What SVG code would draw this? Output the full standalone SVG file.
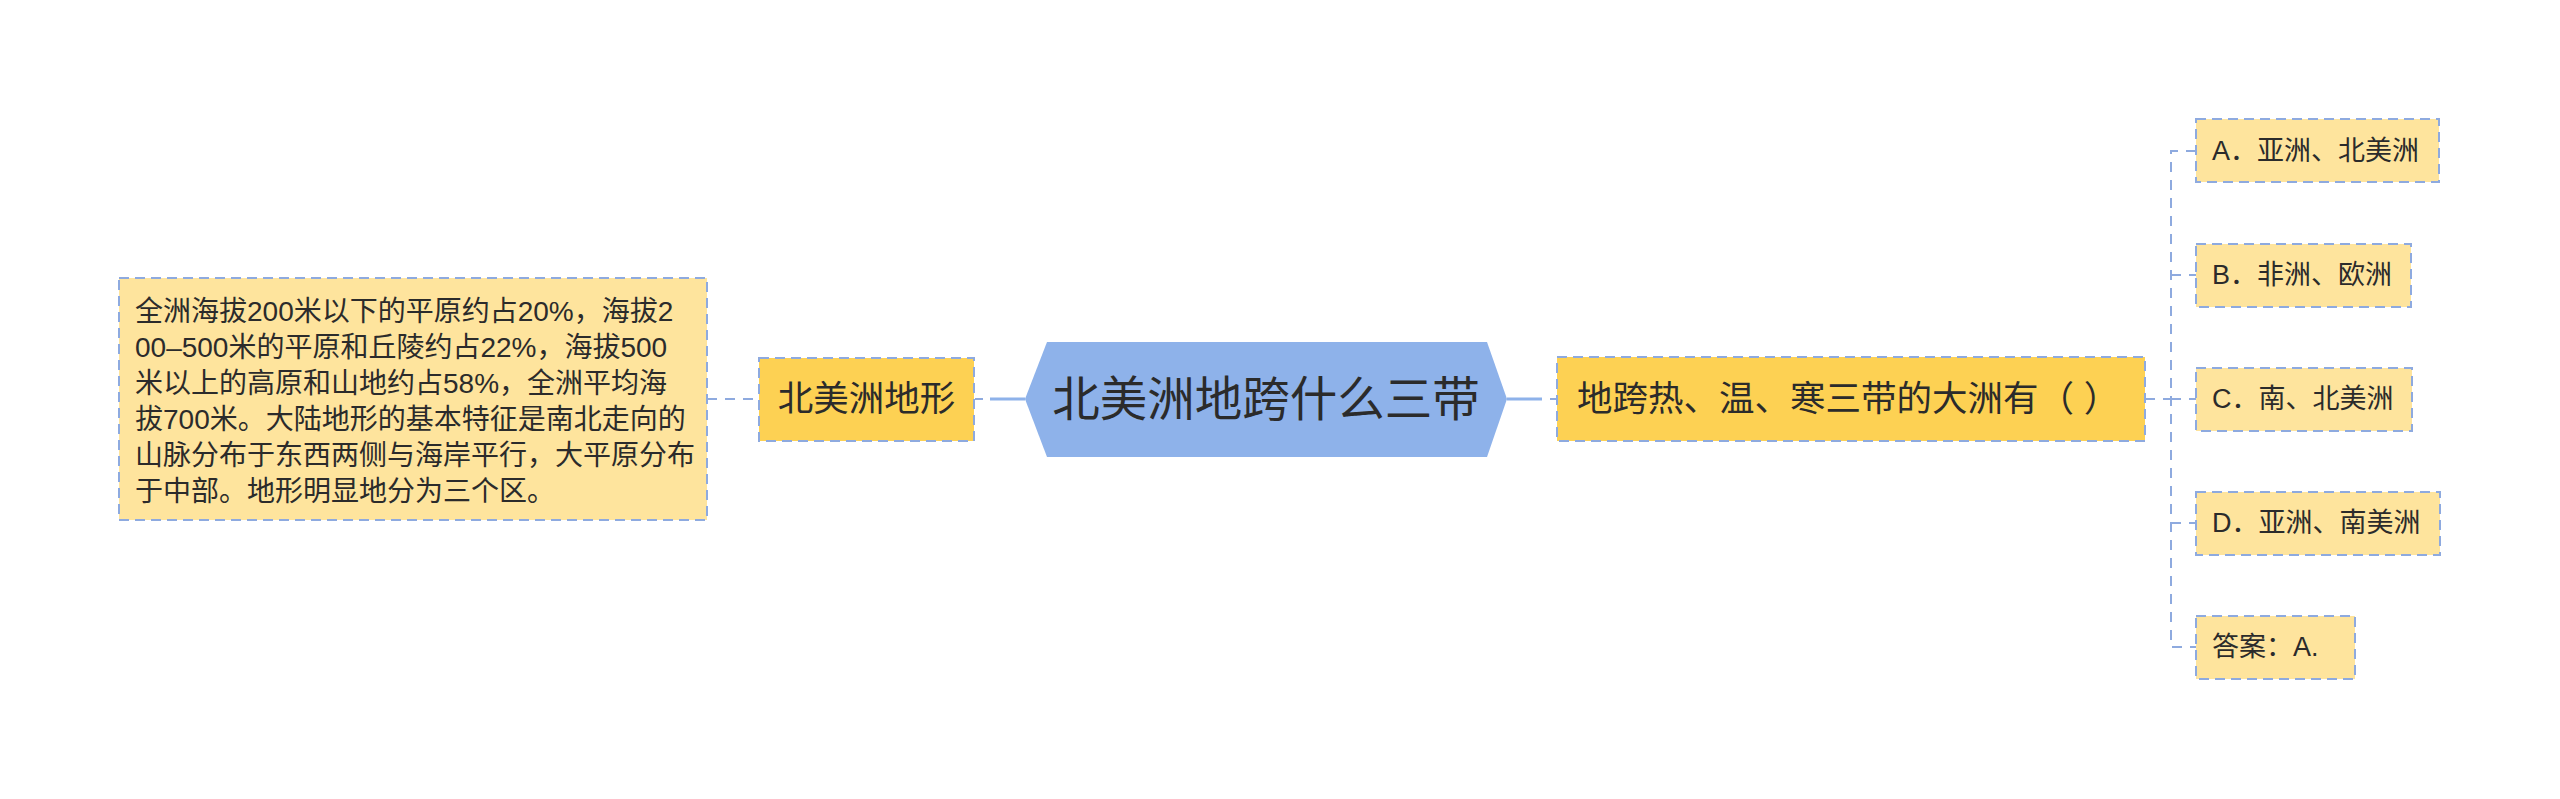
<svg xmlns="http://www.w3.org/2000/svg" width="2560" height="799" viewBox="0 0 2560 799">
<style>
text{font-family:"Liberation Sans","Noto Sans CJK SC",sans-serif;fill:#2b2b2b;dominant-baseline:central}
.box{stroke:#8eaadf;stroke-width:2;stroke-dasharray:10 6}
.light{fill:#fee49d}
.strong{fill:#fdd153}
.dash{fill:none;stroke:#8eaadf;stroke-width:2;stroke-dasharray:10 8}
.solid{fill:none;stroke:#8eb2ea;stroke-width:3}
</style>
<rect width="2560" height="799" fill="#ffffff"/>
<g id="connectors">
<line class="dash" x1="707" y1="399" x2="759" y2="399"/>
<line class="dash" x1="975" y1="399" x2="983" y2="399"/>
<line class="solid" x1="990" y1="399" x2="1025" y2="399"/>
<line class="solid" x1="1507" y1="399" x2="1542" y2="399"/>
<line class="dash" x1="1550" y1="399" x2="1557" y2="399"/>
<line class="dash" x1="2145" y1="399" x2="2171" y2="399"/>
<path class="dash" d="M2196,151 H2171 V647 H2196"/>
<line class="dash" x1="2171" y1="275" x2="2196" y2="275"/>
<line class="dash" x1="2171" y1="399" x2="2196" y2="399"/>
<line class="dash" x1="2171" y1="523" x2="2196" y2="523"/>
</g>
<g id="root">
<polygon points="1025,399 1047,342 1487,342 1507,399 1487,457 1047,457" fill="#8eb2ea"/>
<text x="1266" y="399" font-size="47.5" text-anchor="middle">北美洲地跨什么三带</text>
</g>
<g id="topic-terrain">
<rect class="box strong" x="759" y="358" width="215" height="83"/>
<text x="866.5" y="399" font-size="35.5" text-anchor="middle">北美洲地形</text>
</g>
<g id="terrain-detail">
<rect class="box light" x="119" y="278" width="588" height="242"/>
<text font-size="28">
<tspan x="135" y="311">全洲海拔200米以下的平原约占20%，海拔2</tspan>
<tspan x="135" y="347">00–500米的平原和丘陵约占22%，海拔500</tspan>
<tspan x="135" y="383">米以上的高原和山地约占58%，全洲平均海</tspan>
<tspan x="135" y="419">拔700米。大陆地形的基本特征是南北走向的</tspan>
<tspan x="135" y="455">山脉分布于东西两侧与海岸平行，大平原分布</tspan>
<tspan x="135" y="491">于中部。地形明显地分为三个区。</tspan>
</text>
</g>
<g id="topic-question">
<rect class="box strong" x="1557" y="357" width="588" height="84"/>
<text x="1577" y="399" font-size="35.5">地跨热、温、寒三带的大洲有（ ）</text>
</g>
<g id="option-a">
<rect class="box light" x="2196" y="119" width="243" height="63"/>
<text x="2212" y="151" font-size="27">A．亚洲、北美洲</text>
</g>
<g id="option-b">
<rect class="box light" x="2196" y="244" width="215" height="63"/>
<text x="2212" y="275" font-size="27">B．非洲、欧洲</text>
</g>
<g id="option-c">
<rect class="box light" x="2196" y="368" width="216" height="63"/>
<text x="2212" y="399" font-size="27">C．南、北美洲</text>
</g>
<g id="option-d">
<rect class="box light" x="2196" y="492" width="244" height="63"/>
<text x="2212" y="523" font-size="27">D．亚洲、南美洲</text>
</g>
<g id="answer">
<rect class="box light" x="2196" y="616" width="159" height="63"/>
<text x="2212" y="647" font-size="27">答案：A.</text>
</g>
</svg>
